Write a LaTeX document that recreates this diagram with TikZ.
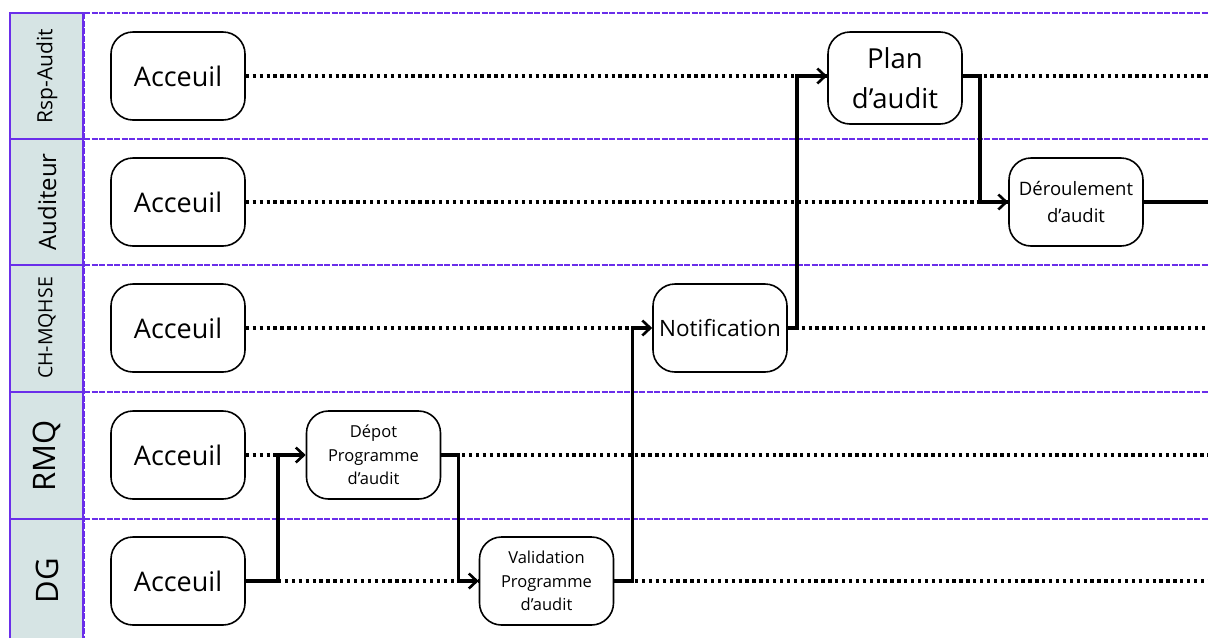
\documentclass[tikz,border=0pt]{standalone}
\usepackage{fontspec}
\setmainfont{Open Sans}
\usetikzlibrary{arrows.meta}
\definecolor{lanepurple}{HTML}{6A2EEA}
\definecolor{headfill}{HTML}{D6E4E4}
\tikzset{
  box/.style={draw=black, line width=1.6pt, rounded corners=22pt, fill=white,
    minimum width=134pt, minimum height=88pt, align=center, inner sep=1pt},
  startbox/.style={box, font=\fontsize{27}{32}\selectfont},
  smallbox/.style={box, font=\fontsize{16.5}{23.5}\selectfont},
  lanelabel/.style={rotate=90, inner sep=0pt},
  waitline/.style={line width=3.6pt, dash pattern=on 3.3pt off 3.6pt},
  flow/.style={line width=3.4pt, -{Straight Barb[length=8pt,width=15pt,line width=2.6pt]}},
  flowend/.style={line width=3.4pt},
  lanesep/.style={lanepurple, line width=1.2pt, dash pattern=on 6pt off 1.5pt},
}
\begin{document}
\begin{tikzpicture}[x=1pt,y=-1pt]
\useasboundingbox (0,0) rectangle (1208,638);

% lane header column
\fill[headfill] (10,13) rectangle (83,638);
\draw[lanepurple, line width=1.3pt] (10,638) -- (10,13) -- (83,13) -- (83,638);
\foreach \yy in {139,265,392,519}
  \draw[lanepurple, line width=1.3pt] (10,\yy) -- (83,\yy);

% lane separators across the body
\foreach \yy in {13,139,265,392,519}
  \draw[lanesep] (84,\yy) -- (1208,\yy);
\draw[lanesep] (84,13) -- (84,638);

% lane titles
\node[lanelabel, font=\fontsize{21}{24}\selectfont] (l1) at (47,76) {Rsp-Audit};
\node[lanelabel, font=\fontsize{24}{28}\selectfont] (l2) at (47,202) {Auditeur};
\node[lanelabel, font=\fontsize{19.5}{24}\selectfont] (l3) at (47,328) {CH-MQHSE};
\node[lanelabel, font=\fontsize{31}{36}\selectfont] (l4) at (47,456) {RMQ};
\node[lanelabel, font=\fontsize{31}{36}\selectfont] (l5) at (47,581) {DG};

% starting points of each lane
\node[startbox] (rspA) at (178,76) {Acceuil};
\node[startbox] (audA) at (178,202) {Acceuil};
\node[startbox] (chA)  at (178,328) {Acceuil};
\node[startbox] (rmqA) at (178,455) {Acceuil};
\node[startbox] (dgA)  at (178,581) {Acceuil};

% activities
\node[smallbox] (dep) at (373.5,455) {Dépot\\Programme\\d’audit};
\node[smallbox] (val) at (546.5,581) {Validation\\Programme\\d’audit};
\node[box, font=\fontsize{22.5}{27}\selectfont] (notif) at (720,328) {Notification};
\node[box, minimum height=92pt, font=\fontsize{27.5}{40}\selectfont] (plan) at (895,78) {Plan\\d’audit};
\node[box, font=\fontsize{18.5}{27}\selectfont] (der) at (1076,202) {Déroulement\\d’audit};

% right-hand ends of the lanes
\coordinate (r1) at (1208,76);
\coordinate (r2) at (1208,202);
\coordinate (r3) at (1208,328);
\coordinate (r4) at (1208,455);
\coordinate (r5) at (1208,581);
\coordinate (b1) at (278,581);

% waiting lines
\draw[waitline] (rspA.east) -- (plan.west |- rspA.east);
\draw[waitline] (plan.east |- r1) -- (r1);
\draw[waitline] (audA.east) -- (der.west);
\draw[waitline] (chA.east) -- (notif.west);
\draw[waitline] (notif.east) -- (r3);
\draw[waitline] (rmqA.east) -- (dep.west);
\draw[waitline] (dep.east) -- (r4);
\draw[waitline] (b1) -- (val.west);
\draw[waitline] (val.east) -- (r5);

% process flow
\draw[flowend] (dgA.east) -- (b1);
\draw[flow] (b1) |- (dep.west);
\draw[flow] (dep.east) -- ++(17,0) |- (val.west);
\draw[flow] (val.east) -- ++(18,0) |- (notif.west);
\draw[flow] (notif.east) -- ++(9,0) |- (plan.west |- rspA.east);
\draw[flow] (plan.east |- r1) -- ++(17,0) |- (der.west);
\draw[flowend] (der.east) -- (r2);
\end{tikzpicture}
\end{document}
